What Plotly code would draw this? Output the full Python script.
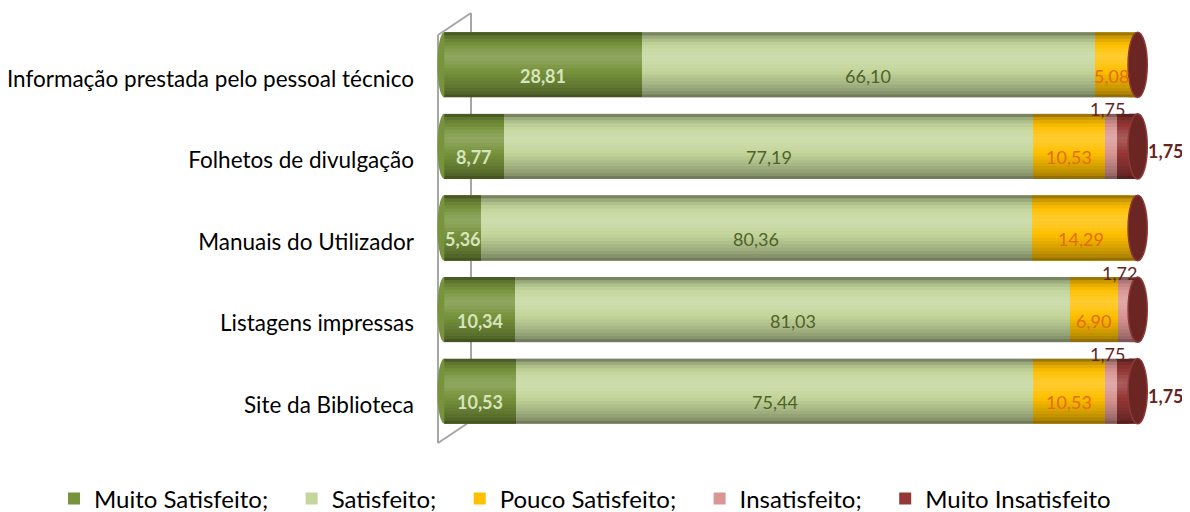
import plotly.graph_objects as go

categories = ["Informação prestada pelo pessoal técnico", "Folhetos de divulgação",
              "Manuais do Utilizador", "Listagens impressas", "Site da Biblioteca"]
series_names = ["Muito Satisfeito;", "Satisfeito;", "Pouco Satisfeito;", "Insatisfeito;", "Muito Insatisfeito"]
muito_satisfeito = [28.81, 8.77, 5.36, 10.34, 10.53]
satisfeito = [66.10, 77.19, 80.36, 81.03, 75.44]
pouco_satisfeito = [5.08, 10.53, 14.29, 6.90, 10.53]
insatisfeito = [0, 1.75, 0, 1.72, 1.75]
muito_insatisfeito = [0, 1.75, 0, 0, 1.75]

values = [muito_satisfeito, satisfeito, pouco_satisfeito, insatisfeito, muito_insatisfeito]
colors = ["#77933c", "#c3d69b", "#ffc000", "#d99694", "#953735"]
text_colors = ["#d7e4bd", "#4f6228", "#e46c0a", "#632523", "#632523"]
FONT = "Lato"
PAD = "\u00a0" * 3  # extra spacing between legend entries

# figure geometry (page has an 8px body margin)
W, H = 1182, 504
L, R, T, B = 426, 40, 16, 80
PW, PH = W - L - R, H - T - B
OFF = 8


def px(xp):
    return (xp - OFF - L) / PW


def py(yp):
    return (H - B - (yp - OFF)) / PH


def fmt(v):
    return f"{v:.2f}".replace(".", ",")


fig = go.Figure()
for i, (name, vals) in enumerate(zip(series_names, values)):
    fig.add_trace(go.Bar(
        y=categories, x=vals, name=name + (PAD if i < 4 else ""), orientation="h",
        marker=dict(color=colors[i], line=dict(width=0)),
        hoverinfo="skip",
    ))

shapes = []
bar_w = 0.8
half = bar_w / 2
# cylinder shading profile, top -> bottom (negative: dark, positive: light)
shade = [-0.38, -0.2, -0.1, -0.03, 0.04, 0.1, 0.15, 0.18, 0.16, 0.12,
         0.07, 0.02, -0.02, -0.06, -0.1, -0.14, -0.19, -0.24, -0.3, -0.42]
n = len(shade)
for k, cat in enumerate(categories):
    top = k - half
    last_color = colors[max(i for i in range(5) if values[i][k] > 0)]
    # left rounded end of the cylinder
    shapes.append(dict(type="circle", xref="x", yref="y", x0=-1.0, x1=1.0,
                       y0=k - half, y1=k + half, fillcolor=colors[0],
                       line=dict(width=0), layer="below"))
    # body continues under the end cap
    shapes.append(dict(type="rect", xref="x", yref="y", x0=99.9, x1=101.2,
                       y0=k - half, y1=k + half, fillcolor=last_color,
                       line=dict(width=0), layer="above"))
    for j, s in enumerate(shade):
        if s == 0:
            continue
        shapes.append(dict(type="rect", xref="x", yref="y", x0=0, x1=101.2,
                           y0=top + j / n * bar_w, y1=top + (j + 1) / n * bar_w,
                           fillcolor="black" if s < 0 else "white", opacity=abs(s),
                           line=dict(width=0), layer="above"))
    # right end cap
    shapes.append(dict(type="circle", xref="x", yref="y", x0=99.8, x1=102.6,
                       y0=k - half, y1=k + half, fillcolor="#6b2523",
                       line=dict(color="#8a3a38", width=1.5), layer="above"))

# 3D back wall (page pixel positions)
wall = "#a6a6a6"
for x0, y0, x1, y1 in [(438, 35, 438, 443), (471, 13, 471, 421),
                       (438, 35, 471, 13), (438, 443, 471, 421)]:
    shapes.append(dict(type="line", xref="paper", yref="paper", x0=px(x0), y0=py(y0),
                       x1=px(x1), y1=py(y1), line=dict(color=wall, width=2), layer="below"))

LABEL_DY = -11
annotations = []
for k, cat in enumerate(categories):
    cum = 0
    for i in range(3):
        v = values[i][k]
        if v > 0:
            txt = f"<b>{fmt(v)}</b>" if i == 0 else fmt(v)
            annotations.append(dict(x=cum + v / 2, y=cat, xref="x", yref="y", text=txt,
                                    showarrow=False, yshift=LABEL_DY,
                                    font=dict(family=FONT, size=18, color=text_colors[i])))
        cum += v
    if insatisfeito[k] > 0:
        annotations.append(dict(x=cum + insatisfeito[k] / 2, y=cat, xref="x", yref="y",
                                text=fmt(insatisfeito[k]), showarrow=False, xshift=-4,
                                yshift=37, font=dict(family=FONT, size=18, color=text_colors[3])))
    if muito_insatisfeito[k] > 0:
        annotations.append(dict(x=100, y=cat, xref="x", yref="y", xanchor="left",
                                text=f"<b>{fmt(muito_insatisfeito[k])}</b>",
                                showarrow=False, xshift=17, yshift=-5,
                                font=dict(family=FONT, size=18, color=text_colors[4])))

fig.update_layout(
    width=W, height=H,
    margin=dict(l=L, r=R, t=T, b=B, autoexpand=False),
    barmode="stack", bargap=0.2,
    plot_bgcolor="white", paper_bgcolor="white",
    xaxis=dict(range=[-1.5, 103], visible=False, showgrid=False, zeroline=False, automargin=False),
    yaxis=dict(range=[4.5, -0.5], autorange=False, showgrid=False, zeroline=False, ticks="",
               automargin=False, ticklabelstandoff=19, ticklabelshift=-14,
               tickfont=dict(family=FONT, size=22.5, color="black")),
    showlegend=True,
    legend=dict(orientation="h", xref="paper", x=px(54), xanchor="left",
                yref="paper", y=py(499), yanchor="middle",
                font=dict(family=FONT, size=24, color="black"), traceorder="normal"),
    shapes=shapes, annotations=annotations,
)

fig.write_html("out.html")
